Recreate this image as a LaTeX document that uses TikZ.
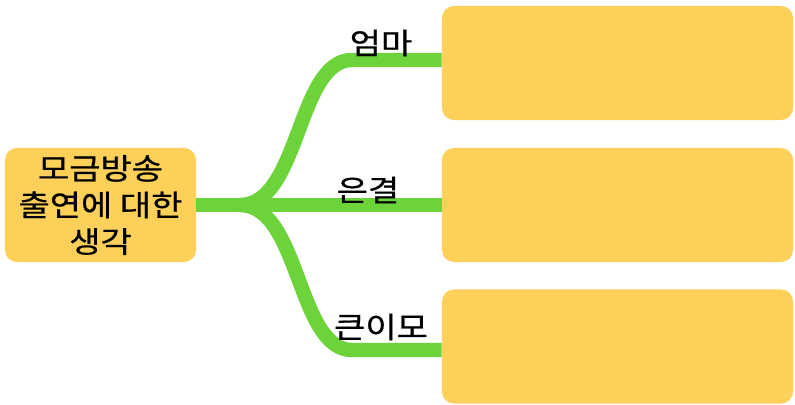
\documentclass[tikz,border=0pt]{standalone}
\usepackage{fontspec}
\newfontfamily\kor[FakeBold=0.6]{Noto Sans CJK KR}
\usetikzlibrary{positioning, calc}

\definecolor{boxYellow}{HTML}{FDD05A}
\definecolor{branchGreen}{HTML}{6CD33A}

\newcommand{\wide}[1]{\scalebox{1.15}[1]{#1}}

\begin{document}
\begin{tikzpicture}[
    x=0.025cm, y=-0.025cm,
    font=\kor\fontsize{21}{26}\selectfont,
    box/.style={rectangle, rounded corners=0.3cm, fill=boxYellow, inner sep=0pt},
    branch/.style={draw=branchGreen, line width=0.36cm},
    lbl/.style={inner sep=0pt}
    ]

    % Determines the boundries
    \path [use as bounding box] (0,0) rectangle (795,405);

    \def\rootW{4.775cm}
    \def\boxW{8.775cm}
    \def\boxH{2.85cm}

    \node (root) [box, minimum width=\rootW, minimum height=\boxH, align=center] at (100.5,205)
        {\wide{모금방송}\\\wide{출연에 대한}\\\wide{생각}};

    % The three empty boxes on the right
    \foreach \n/\y in {A/63, B/205, C/346.5}{
        \node (box\n) [box, minimum width=\boxW, minimum height=\boxH] at (617.5,\y) {};
    }

    % Fork and ends of the curved branches
    \coordinate (F) at (240,205);
    \coordinate (TA) at (352,60);
    \coordinate (TC) at (352,350);

    \draw[branch] (root.east) -- (boxB.west);
    \draw[branch] (F) .. controls +(60,0) and +(-55,0) .. (TA) -- (TA -| boxA.west);
    \draw[branch] (F) .. controls +(60,0) and +(-55,0) .. (TC) -- (TC -| boxC.west);

    % Labels on the branches
    \node (lA) [lbl] at (381,43) {\wide{엄마}};
    \node (lB) [lbl] at (368,190) {\wide{은결}};
    \node (lC) [lbl] at (381,327) {\wide{큰이모}};

\end{tikzpicture}
\end{document}
